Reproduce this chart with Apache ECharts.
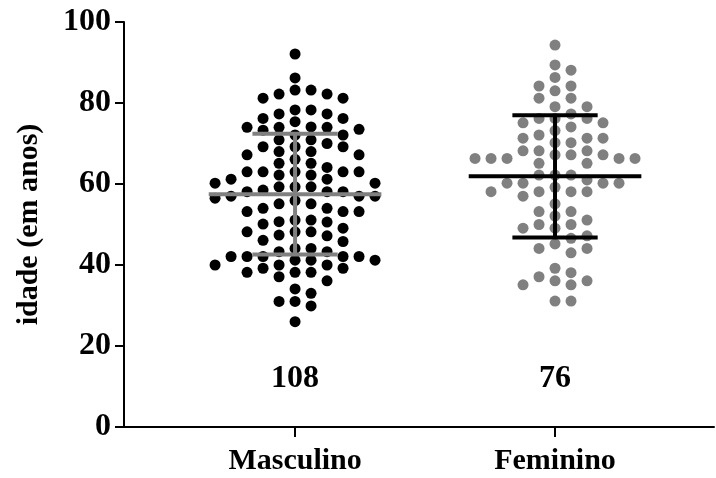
<!DOCTYPE html>
<html><head><meta charset="utf-8">
<script src="https://cdn.jsdelivr.net/npm/echarts@6/dist/echarts.min.js"></script>
<style>html,body{margin:0;padding:0;background:#fff}#c{width:716px;height:478px}</style>
</head><body><div id="c"></div>
<script>
const categories = ['Masculino', 'Feminino'];
const masculino = [
  92.1, 86.2, 83.2, 83.2, 82.2, 82.2, 81.2, 81.2, 78.3, 78.3,
  77.3, 77.3, 76.2, 76.2, 75.4, 74.0, 74.0, 74.1, 74.0, 73.5,
  73.3, 72.1, 72.1, 70.9, 70.9, 70.0, 69.2, 69.2, 69.2, 68.0,
  68.0, 67.2, 66.1, 67.2, 65.1, 65.1, 64.1, 63.0, 63.0, 63.0,
  63.0, 63.0, 62.2, 62.2, 61.2, 61.2, 60.2, 60.2, 59.3, 59.3,
  59.3, 58.1, 58.1, 58.1, 58.5, 57.0, 57.0, 56.5, 57.0, 55.9,
  55.1, 55.1, 54.0, 54.0, 53.2, 53.2, 53.2, 51.1, 51.1, 50.7,
  50.6, 50.1, 49.1, 48.2, 48.2, 48.2, 47.4, 47.2, 45.8, 46.1,
  44.1, 44.1, 43.3, 43.3, 42.1, 42.1, 42.1, 42.1, 42.1, 41.2,
  41.2, 41.2, 40.0, 40.0, 40.0, 39.2, 39.2, 38.2, 38.2, 38.2,
  37.1, 36.1, 34.1, 33.0, 31.0, 31.0, 29.9, 26.0
];
const feminino = [
  94.3, 89.4, 88.1, 86.3, 84.2, 84.2, 83.0, 81.2, 81.2, 79.1,
  79.1, 77.3, 76.2, 76.2, 76.2, 75.1, 75.1, 74.1, 73.2, 72.1,
  71.3, 71.3, 71.3, 70.2, 70.2, 68.2, 68.2, 68.2, 67.2, 67.2,
  67.2, 66.3, 66.3, 66.3, 66.3, 66.3, 65.1, 65.1, 62.2, 62.2,
  62.2, 61.0, 60.2, 60.2, 60.2, 60.2, 59.2, 58.1, 58.1, 58.1,
  58.1, 57.0, 55.1, 53.2, 53.2, 52.1, 51.1, 50.0, 50.0, 49.1,
  49.1, 47.2, 46.6, 44.1, 44.1, 45.2, 43.0, 39.2, 38.1, 36.1,
  36.1, 37.1, 35.1, 35.1, 31.1, 31.1
];
const means = [57.5, 61.9];
const sds = [14.9, 15.1];

const groups = [masculino, feminino];
const dotColors = ['#000000', '#808080'];
const barColors = ['#808080', '#000000'];
const FONT = '"Liberation Serif", "Times New Roman", serif';

// x axis: value axis; category i sits at x = i
const xMin = -0.658, xMax = 1.6115;
const pxPerX = 260;            // pixels per category step
const pxPerY = 4.05;           // pixels per year
const dotPx = 11;
const colStep = 16 / pxPerX;   // beeswarm column spacing in x units
const minGap = 11.4 / pxPerY;  // vertical clearance in y units

function beeswarm(values, center) {
  const sorted = values.slice().sort((a, b) => b - a);
  const placed = {};
  const out = [];
  sorted.forEach(v => {
    for (let k = 0; k < 40; k++) {
      const col = k === 0 ? 0 : (k % 2 ? (k + 1) / 2 : -k / 2);
      const list = placed[col] || (placed[col] = []);
      if (list.every(y => Math.abs(y - v) >= minGap)) {
        list.push(v);
        out.push([center + col * colStep, v]);
        return;
      }
    }
  });
  return out;
}

const chart = echarts.init(document.getElementById('c'), null, {renderer: 'canvas'});
const scatterSeries = groups.map((g, i) => ({
  type: 'scatter',
  data: beeswarm(g, i),
  symbol: 'circle',
  symbolSize: dotPx,
  itemStyle: {color: dotColors[i], opacity: 1},
  z: 2,
  silent: true
}));

const barData = categories.map((c, i) => [i, means[i], sds[i], groups[i].length]);

chart.setOption({
  animation: false,
  grid: {left: 124, top: 22, width: 590, height: 405, containLabel: false},
  xAxis: {
    type: 'value', min: xMin, max: xMax,
    splitLine: {show: false},
    axisLine: {show: true, onZero: false, lineStyle: {color: '#000', width: 2}},
    axisTick: {show: true, customValues: [0, 1], length: 10, lineStyle: {color: '#000', width: 2}},
    axisLabel: {
      customValues: [0, 1],
      formatter: v => categories[Math.round(v)],
      color: '#000', fontFamily: FONT, fontWeight: 'bold', fontSize: 30, margin: 19
    }
  },
  yAxis: {
    type: 'value', min: 0, max: 100, interval: 20,
    splitLine: {show: false},
    axisLine: {show: true, onZero: false, lineStyle: {color: '#000', width: 2}},
    axisTick: {show: true, length: 9, lineStyle: {color: '#000', width: 2}},
    axisLabel: {color: '#000', fontFamily: FONT, fontWeight: 'bold', fontSize: 32, margin: 13},
    name: 'idade (em anos)', nameLocation: 'middle', nameGap: 80,
    nameTextStyle: {color: '#000', fontFamily: FONT, fontWeight: 'bold', fontSize: 30}
  },
  series: scatterSeries.concat([{
    type: 'custom',
    data: barData,
    z: 5,
    silent: true,
    renderItem: function (params, api) {
      const i = api.value(0), m = api.value(1), s = api.value(2), n = api.value(3);
      const c = api.coord([i, m]);
      const t = api.coord([i, m + s]);
      const b = api.coord([i, m - s]);
      const halfMean = 0.332 * pxPerX, halfCap = 0.164 * pxPerX;
      const col = barColors[i];
      const lbl = api.coord([i, 12]);
      return {
        type: 'group',
        children: [
          {type: 'line', shape: {x1: c[0] - halfMean, y1: c[1], x2: c[0] + halfMean, y2: c[1]}, style: {stroke: col, lineWidth: 4}},
          {type: 'line', shape: {x1: c[0], y1: t[1], x2: c[0], y2: b[1]}, style: {stroke: col, lineWidth: 4}},
          {type: 'line', shape: {x1: c[0] - halfCap, y1: t[1], x2: c[0] + halfCap, y2: t[1]}, style: {stroke: col, lineWidth: 4}},
          {type: 'line', shape: {x1: c[0] - halfCap, y1: b[1], x2: c[0] + halfCap, y2: b[1]}, style: {stroke: col, lineWidth: 4}},
          {type: 'text', style: {text: String(n), x: lbl[0], y: lbl[1], align: 'center', verticalAlign: 'middle',
            font: 'bold 32px ' + FONT, fill: '#000'}}
        ]
      };
    }
  }])
});
</script>
</body></html>
